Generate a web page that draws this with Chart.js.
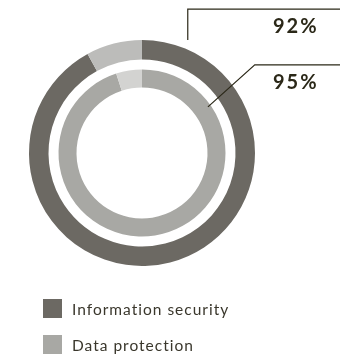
<!DOCTYPE html>
<html>
<head>
<meta charset="utf-8">
<style>
  html, body { margin: 0; padding: 0; background: #ffffff; }
  #wrap { position: relative; width: 340px; height: 357px; }
  canvas { display: block; }
</style>
<script src="https://cdn.jsdelivr.net/npm/chart.js@4.4.1/dist/chart.umd.min.js"></script>
</head>
<body>
<div id="wrap"><canvas id="chart" width="340" height="357"></canvas></div>
<script>
// Share of respondents, per topic
const categories = ['Information security', 'Data protection'];
const shares = [92, 95];
const remainders = [8, 5];

// Ring colours: main share, remaining share
const mainColors = ['#6c6963', '#a8a8a4'];
const restColors = ['#bcbcba', '#d3d3d1'];
const inkColor = '#2b2818';

// Leader lines, value labels and legend drawn on top of the rings
const annotations = {
  id: 'annotations',
  afterDraw(chart) {
    const ctx = chart.ctx;
    const outer = chart.getDatasetMeta(0).data[0];
    const inner = chart.getDatasetMeta(2).data[0];
    const cx = outer.x, cy = outer.y, R = outer.outerRadius;
    const right = chart.width;

    ctx.save();
    ctx.strokeStyle = inkColor;
    ctx.lineWidth = 1.2;

    // outer ring leader: up from the ring top, then across
    const x1 = cx + R * 0.405;
    const yTop = cy - R * 1.274;
    ctx.beginPath();
    ctx.moveTo(x1, cy - R);
    ctx.lineTo(x1, yTop);
    ctx.lineTo(right, yTop);
    ctx.stroke();

    // inner ring leader: diagonal out of the ring, then across
    const ang = 55 * Math.PI / 180;
    const r0 = inner.outerRadius - 3;
    const sx = cx + r0 * Math.sin(ang), sy = cy - r0 * Math.cos(ang);
    const ex = cx + R * 0.998, ey = cy - R * 0.78;
    ctx.beginPath();
    ctx.moveTo(sx, sy);
    ctx.lineTo(ex, ey);
    ctx.lineTo(right, ey);
    ctx.stroke();

    // value labels
    ctx.fillStyle = inkColor;
    ctx.font = 'bold 20px Lato, sans-serif';
    ctx.letterSpacing = '2px';
    ctx.textAlign = 'left';
    ctx.textBaseline = 'alphabetic';
    ctx.fillText(shares[0] + '%', 273, yTop + 24);
    ctx.fillText(shares[1] + '%', 273, ey + 24);

    // legend
    ctx.font = '15.5px Lato, sans-serif';
    ctx.letterSpacing = '1px';
    const legendTop = [299, 335];
    categories.forEach((name, i) => {
      ctx.fillStyle = mainColors[i];
      ctx.fillRect(43, legendTop[i], 19, 19);
      ctx.fillStyle = '#3a372c';
      ctx.fillText(name, 72, legendTop[i] + 15.5);
    });
    ctx.restore();
  }
};

new Chart(document.getElementById('chart'), {
  type: 'doughnut',
  data: {
    labels: ['share', 'rest'],
    datasets: [
      {
        label: categories[0],
        data: [shares[0], remainders[0]],
        backgroundColor: [mainColors[0], restColors[0]],
        borderWidth: 0,
        weight: 19.5
      },
      {
        label: '',
        data: [1],
        backgroundColor: ['rgba(0,0,0,0)'],
        borderWidth: 0,
        weight: 10
      },
      {
        label: categories[1],
        data: [shares[1], remainders[1]],
        backgroundColor: [mainColors[1], restColors[1]],
        borderWidth: 0,
        weight: 18
      }
    ]
  },
  options: {
    responsive: false,
    animation: false,
    events: [],
    cutout: 65.5,
    layout: { padding: { left: 29, top: 40, right: 85, bottom: 91 } },
    plugins: {
      legend: { display: false },
      tooltip: { enabled: false }
    }
  },
  plugins: [annotations]
});
</script>
</body>
</html>
